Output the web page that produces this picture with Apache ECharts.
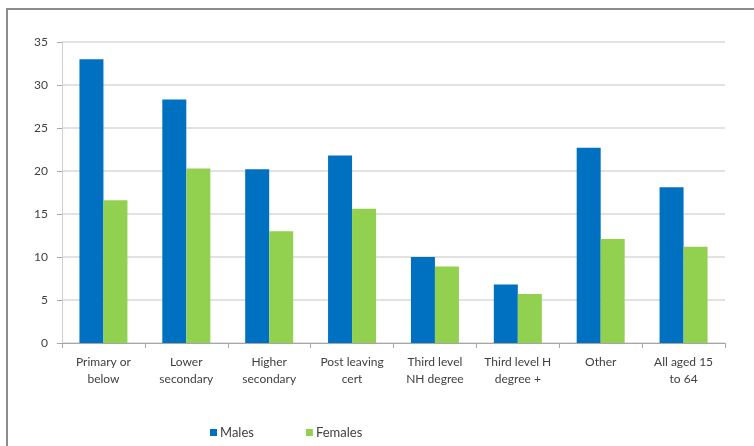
<!DOCTYPE html>
<html>
<head>
<meta charset="utf-8">
<script src="https://cdn.jsdelivr.net/npm/echarts@6/dist/echarts.min.js"></script>
<style>
  html, body { margin: 0; padding: 0; background: #fff; }
  #chart { width: 754px; height: 446px; }
</style>
</head>
<body>
<div id="chart"></div>
<script>
var categories = ['Primary or\nbelow', 'Lower\nsecondary', 'Higher\nsecondary', 'Post leaving\ncert',
    'Third level\nNH degree', 'Third level H\ndegree +', 'Other', 'All aged 15\nto 64'];
var males = [33.0, 28.3, 20.2, 21.8, 10.0, 6.8, 22.7, 18.1];
var females = [16.6, 20.3, 13.0, 15.6, 8.9, 5.7, 12.1, 11.2];
var yTicks = [0, 5, 10, 15, 20, 25, 30, 35];

var fontName = 'Lato, "Liberation Sans", sans-serif';
var chart = echarts.init(document.getElementById('chart'));

chart.setOption({
    animation: false,
    textStyle: { fontFamily: fontName },
    graphic: [
        {
            // outer chart frame (runs off the right and bottom edges)
            type: 'rect',
            shape: { x: 7, y: 9, width: 800, height: 500 },
            style: { fill: 'none', stroke: '#8c8c8c', lineWidth: 2 }
        }
    ],
    grid: {
        left: 62,
        right: 29,
        top: 42,
        bottom: 103
    },
    legend: {
        data: ['Males', 'Females'],
        left: 205,
        top: 421,
        icon: 'rect',
        itemWidth: 7,
        itemHeight: 7,
        itemGap: 52,
        textStyle: { fontFamily: fontName, fontSize: 13, color: '#404040', padding: [0, 0, 0, -2] }
    },
    xAxis: {
        type: 'category',
        data: categories,
        axisLine: { lineStyle: { color: '#a6a6a6', width: 1 } },
        axisTick: { show: true, length: 5, lineStyle: { color: '#a6a6a6' } },
        axisLabel: {
            color: '#404040',
            fontSize: 12,
            lineHeight: 17,
            margin: 11,
            interval: 0
        }
    },
    yAxis: {
        type: 'value',
        min: yTicks[0],
        max: yTicks[yTicks.length - 1],
        interval: 5,
        axisLine: { show: true, lineStyle: { color: '#d0d0d0' } },
        axisTick: { show: true, length: 5, lineStyle: { color: '#a6a6a6' } },
        axisLabel: { color: '#404040', fontSize: 12, margin: 14 },
        splitLine: { lineStyle: { color: '#d9d9d9', width: 1.5 } }
    },
    series: [
        {
            name: 'Males',
            type: 'bar',
            data: males,
            barWidth: 24,
            barGap: '0%',
            itemStyle: { color: '#0070C0' }
        },
        {
            name: 'Females',
            type: 'bar',
            data: females,
            barWidth: 24,
            itemStyle: { color: '#92D050' }
        }
    ]
});
</script>
</body>
</html>
